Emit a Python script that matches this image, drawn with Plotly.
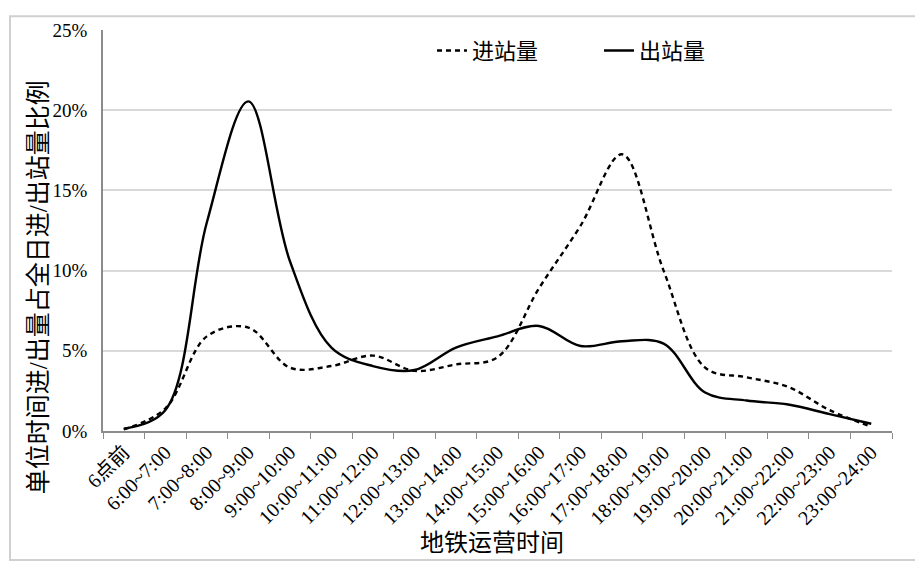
import plotly.graph_objects as go

# 时段
periods = ["6点前", "6:00~7:00", "7:00~8:00", "8:00~9:00", "9:00~10:00",
           "10:00~11:00", "11:00~12:00", "12:00~13:00", "13:00~14:00",
           "14:00~15:00", "15:00~16:00", "16:00~17:00", "17:00~18:00",
           "18:00~19:00", "19:00~20:00", "20:00~21:00", "21:00~22:00",
           "22:00~23:00", "23:00~24:00"]

# 进站量比例 (%)
inbound = [0.1, 1.4, 5.9, 6.45, 3.95, 4.05, 4.7, 3.75, 4.15, 4.6,
           8.9, 12.8, 17.25, 10.0, 3.95, 3.35, 2.75, 1.3, 0.27]

# 出站量比例 (%)
outbound = [0.15, 1.3, 13.0, 20.55, 10.6, 5.2, 4.05, 3.8, 5.2, 5.9,
            6.55, 5.3, 5.6, 5.45, 2.4, 1.9, 1.65, 1.05, 0.45]

y_ticks = [0, 5, 10, 15, 20, 25]
y_labels = [f"{v}%" for v in y_ticks]

FONT = "Liberation Serif, Times New Roman, Noto Sans CJK SC, serif"

# plot area 789 x 407 px
PW, PH = 789, 407

fig = go.Figure()
fig.add_trace(go.Scatter(
    x=periods, y=inbound, name="进站量", mode="lines",
    line=dict(color="black", width=2.4, dash="5px,4px", shape="spline", smoothing=1.0),
))
fig.add_trace(go.Scatter(
    x=periods, y=outbound, name="出站量", mode="lines",
    line=dict(color="black", width=2.4, shape="spline", smoothing=1.0),
))

fig.update_layout(
    width=915, height=558,
    margin=dict(l=95, r=31, t=16, b=135),
    plot_bgcolor="white", paper_bgcolor="white",
    font=dict(family=FONT, color="black", size=19),
    showlegend=True,
    legend=dict(orientation="h", x=(432 - 103) / PW, y=(431 - 45) / PH,
                xanchor="left", yanchor="middle",
                entrywidth=122, font=dict(size=22), bgcolor="rgba(0,0,0,0)"),
    xaxis=dict(
        type="category", range=[-0.5, 18.5],
        showline=True, linecolor="#8c8c8c", linewidth=1.5,
        ticks="outside", tickson="boundaries", ticklen=6, tickcolor="#8c8c8c",
        tickangle=-45, tickfont=dict(size=20),
        showgrid=False,
    ),
    yaxis=dict(
        range=[0, 25], tickvals=y_ticks, ticktext=y_labels,
        showline=True, linecolor="#8c8c8c", linewidth=1.5,
        showgrid=True, gridcolor="#d9d9d9", gridwidth=1.5,
        zeroline=False, ticks="", tickfont=dict(size=19), ticklabelstandoff=10,
    ),
)

# 坐标轴标题
fig.add_annotation(text="单位时间进/出量占全日进/出站量比例", textangle=-90,
                   xref="paper", yref="paper", x=(38 - 103) / PW, y=(431 - 285) / PH,
                   xanchor="center", yanchor="middle", showarrow=False,
                   font=dict(size=25))
fig.add_annotation(text="地铁运营时间",
                   xref="paper", yref="paper", x=(492 - 103) / PW, y=(431 - 545) / PH,
                   xanchor="center", yanchor="middle", showarrow=False,
                   font=dict(size=24))

# 外框
fig.add_shape(type="rect", xref="paper", yref="paper",
              x0=-93 / PW, x1=1 + 27 / PW, y0=-131 / PH, y1=1 + 14 / PH,
              line=dict(color="#d0d0d0", width=2), layer="below")

fig.write_html("out.html")
